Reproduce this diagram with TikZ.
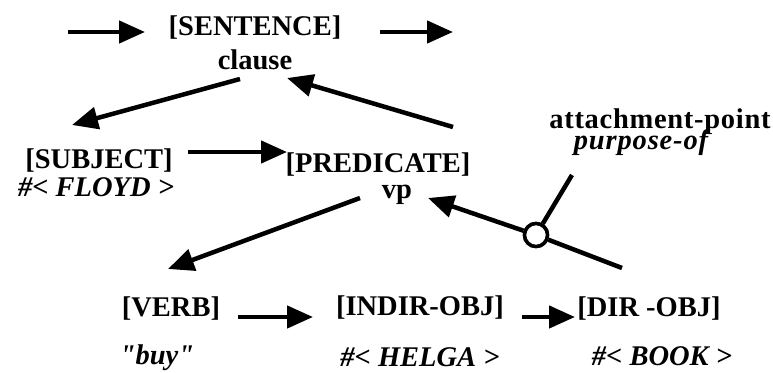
\documentclass[tikz,border=0pt]{standalone}
\usepackage{fontspec}
\setmainfont{Liberation Serif}[Ligatures=TeXOff]
\usetikzlibrary{arrows.meta}
\begin{document}
\begin{tikzpicture}[x=1pt,y=-1pt,
  lbl/.style={inner sep=0pt, anchor=base, font=\fontsize{28.5}{30}\selectfont\bfseries},
  val/.style={inner sep=0pt, anchor=base, font=\fontsize{28.5}{30}\selectfont\bfseries\itshape},
  arr/.style={line width=4.5pt, -{Triangle[length=26pt,width=22pt]}},
  ln/.style={line width=4.5pt},
  ring/.style={circle, draw, fill=white, line width=3.5pt, minimum size=23pt, inner sep=0pt}]
\useasboundingbox (0,0) rectangle (773,372);
% nodes
\node[lbl] (sentence) at (255,35) {[SENTENCE]};
\node[lbl] (clause) at (255,69) {clause};
\node[lbl] (subject) at (99,168) {[SUBJECT]};
\node[val] (floyd) at (96,196) {\#< FLOYD >};
\node[lbl] (predicate) at (378,172) {[PREDICATE]};
\node[lbl] (vp) at (397,198) {vp};
\node[lbl] (verb) at (171,316) {[VERB]};
\node[val] (buy) at (157,364) {"buy"};
\node[lbl] (indir) at (420,315) {[INDIR-OBJ]};
\node[val] (helga) at (420,366) {\#< HELGA >};
\node[lbl] (dir) at (649,316) {[DIR -OBJ]};
\node[val] (book) at (662,365) {\#< BOOK >};
\node[lbl] (attach) at (660,128) {\addfontfeature{LetterSpace=2.5}attachment-point};
\node[val] (purpose) at (641,149) {\addfontfeature{LetterSpace=3}purpose-of};
\node[ring] (att) at (536,235) {};
% connector ends
\coordinate (inS) at (68,32);   \coordinate (inE) at (145,32);
\coordinate (outS) at (380,32); \coordinate (outE) at (453,32);
\coordinate (clS) at (240,79);  \coordinate (subT) at (72,125);
\coordinate (prS) at (453,127); \coordinate (clT) at (287,78);
\coordinate (sbS) at (188,152); \coordinate (prT) at (287,152);
\coordinate (vpS) at (360,198); \coordinate (vbT) at (168,269);
\coordinate (vbS) at (238,317); \coordinate (inT) at (313,317);
\coordinate (idS) at (522,317); \coordinate (drT) at (575,317);
\coordinate (drS) at (622,268); \coordinate (vpT) at (428,198);
\coordinate (apE) at (572,175);
% connectors
\draw[arr] (inS) -- (inE);
\draw[arr] (outS) -- (outE);
\draw[arr] (clS) -- (subT);
\draw[arr] (prS) -- (clT);
\draw[arr] (sbS) -- (prT);
\draw[arr] (vpS) -- (vbT);
\draw[arr] (vbS) -- (inT);
\draw[arr] (idS) -- (drT);
\draw[ln] (drS) -- (att);
\draw[arr] (att) -- (vpT);
\draw[ln] (att) -- (apE);
\node[ring] at (att) {};
\end{tikzpicture}
\end{document}
